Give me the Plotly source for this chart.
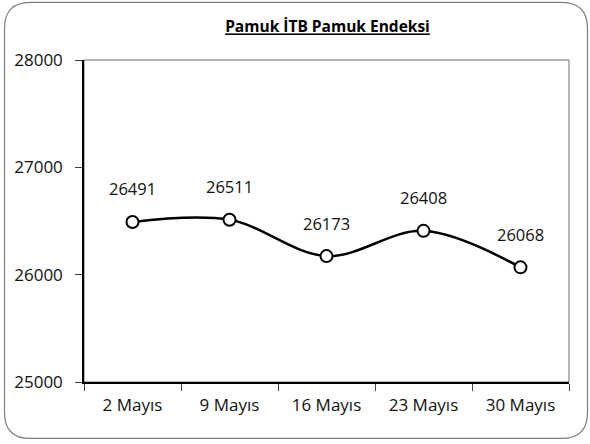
import plotly.graph_objects as go

categories = ["2 Mayıs", "9 Mayıs", "16 Mayıs", "23 Mayıs", "30 Mayıs"]
values = [26491, 26511, 26173, 26408, 26068]
title_text = "Pamuk İTB Pamuk Endeksi"

W, H = 590, 444
L, R, T, B = 84, 569, 60, 381.6
FONT = "Open Sans"

def px(x):
    return (x - L) / (R - L)

def py(y):
    return (B - y) / (B - T)

fig = go.Figure()
fig.add_trace(go.Scatter(
    x=categories, y=values, mode="lines+markers",
    line=dict(color="black", width=2.5, shape="spline", smoothing=1.0),
    marker=dict(symbol="circle", size=12, color="white", line=dict(color="black", width=2)),
    hoverinfo="skip", showlegend=False,
))

for c, v in zip(categories, values):
    fig.add_annotation(x=c, y=v, text=str(v), showarrow=False, yshift=33,
                       xanchor="center", yanchor="middle",
                       font=dict(family=FONT, size=16.5, color="#111111"))

# rounded outer border
x0, x1, y0, y1, r = 4.5, 587.5, 2.5, 438, 26
def P(x, y):
    return f"{px(x):.5f},{py(y):.5f}"
path = (f"M {P(x0 + r, y0)} L {P(x1 - r, y0)} Q {P(x1, y0)} {P(x1, y0 + r)} "
        f"L {P(x1, y1 - r)} Q {P(x1, y1)} {P(x1 - r, y1)} "
        f"L {P(x0 + r, y1)} Q {P(x0, y1)} {P(x0, y1 - r)} "
        f"L {P(x0, y0 + r)} Q {P(x0, y0)} {P(x0 + r, y0)} Z")
fig.add_shape(type="path", path=path, xref="paper", yref="paper",
              line=dict(color="#7f7f7f", width=1.2), layer="below")
# plot area box (gray top/right)
fig.add_shape(type="rect", x0=0, x1=1, y0=0, y1=1, xref="paper", yref="paper",
              line=dict(color="#6e6e6e", width=1), layer="below")

fig.update_layout(
    width=W, height=H,
    margin=dict(l=L, r=W - R, t=T, b=H - B),
    paper_bgcolor="white", plot_bgcolor="white",
    title=dict(text="<b>" + title_text + "</b>", x=px(327.5), xref="paper",
               xanchor="center", y=1 - 27 / H, yanchor="middle",
               font=dict(family=FONT, size=15.5, color="black", lineposition="under")),
    xaxis=dict(type="category", tickson="boundaries", ticks="outside", ticklen=7,
               tickcolor="#444444", showline=True, linecolor="black", linewidth=1.5,
               showgrid=False, zeroline=False, range=[-0.5, 4.5],
               tickfont=dict(family=FONT, size=17, color="#111111"),
               ticklabelstandoff=7),
    yaxis=dict(range=[25000, 28000], dtick=1000, tick0=25000, ticks="outside", ticklen=7,
               tickcolor="#444444", showline=True, linecolor="black", linewidth=1.5,
               showgrid=False, zeroline=False, tickformat="d",
               tickfont=dict(family=FONT, size=17, color="#111111"),
               ticklabelstandoff=9),
)

fig.write_html("out.html", config={"displayModeBar": False},
               post_script="document.body.style.margin='0';")
